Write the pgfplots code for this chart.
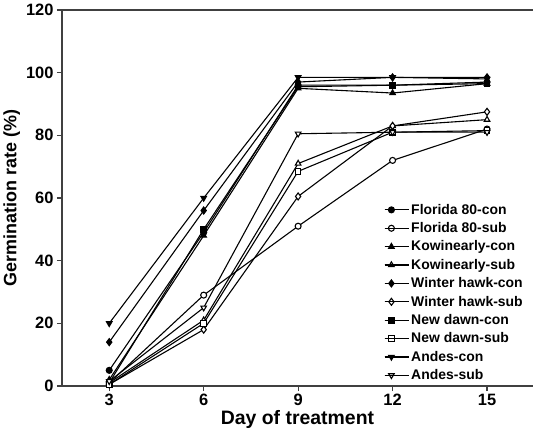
\documentclass[border=0pt]{standalone}
\usepackage{pgfplots}
\pgfplotsset{compat=1.18}
\usepackage{fontspec}
\setmainfont{Liberation Sans}
\usetikzlibrary{calc}
\definecolor{axgray}{HTML}{404040}
\begin{document}
\begin{tikzpicture}
\begin{axis}[
  scale only axis,
  width=471bp, height=376bp,
  xmin=1.5, xmax=16.46, ymin=0, ymax=120,
  xtick={3,6,9,12,15}, ytick={0,20,...,120},
  axis x line=box, axis y line=left,
  xtick pos=bottom, ytick pos=left,
  tick align=outside,
  major tick length=5bp,
  axis line style={-, color=axgray, line width=1.8pt},
  tick style={color=axgray, line width=1.2pt},
  /pgf/number format/assume math mode=true,
  ticklabel style={font=\bfseries\fontsize{16.5}{17}\selectfont},
  xlabel={\bfseries Day of treatment},
  ylabel={\bfseries Germination rate (\%)},
  xlabel style={font=\bfseries\fontsize{19.5}{20}\selectfont, yshift=3bp},
  ylabel style={font=\bfseries\fontsize{18}{19}\selectfont, yshift=-1bp},
  legend style={draw=none, fill=none, at={(0.677,0.495)}, anchor=north west,
    font=\bfseries\fontsize{14}{14}\selectfont, row sep=2.8bp},
  legend cell align=left,
  legend image code/.code={\draw[mark repeat=2,mark phase=2] plot coordinates {(0cm,0cm)(0.24cm,0cm)(0.48cm,0cm)}; \path (0cm,0cm) -- (0.85cm,0cm);},
]
% Florida 80-con
\addplot[black, line width=1.1pt, mark=*, mark size=3bp, mark options={solid, draw=black, fill=black}] coordinates {(3,5) (6,49) (9,96) (12,96) (15,97)};
% Florida 80-sub
\addplot[black, line width=1.1pt, mark=*, mark size=3bp, mark options={solid, draw=black, fill=white, line width=1.1pt}] coordinates {(3,1) (6,29) (9,51) (12,72) (15,82)};
% Kowinearly-con
\addplot[black, line width=1.1pt, mark=triangle*, mark size=3.2bp, mark options={solid, draw=black, fill=black}] coordinates {(3,2) (6,48) (9,95) (12,93.5) (15,96.5)};
% Kowinearly-sub
\addplot[black, line width=1.1pt, mark=triangle*, mark size=3.2bp, mark options={solid, draw=black, fill=white, line width=1.1pt}] coordinates {(3,1) (6,21) (9,71) (12,83) (15,85)};
% Winter hawk-con
\addplot[black, line width=1.1pt, mark=diamond*, mark size=3.5bp, mark options={solid, draw=black, fill=black}] coordinates {(3,14) (6,56) (9,97) (12,98.5) (15,98.5)};
% Winter hawk-sub
\addplot[black, line width=1.1pt, mark=diamond*, mark size=3.5bp, mark options={solid, draw=black, fill=white, line width=1.1pt}] coordinates {(3,0.5) (6,18) (9,60.5) (12,83) (15,87.5)};
% New dawn-con
\addplot[black, line width=1.1pt, mark=square*, mark size=2.8bp, mark options={solid, draw=black, fill=black}] coordinates {(3,1) (6,50) (9,95.5) (12,96) (15,96.5)};
% New dawn-sub
\addplot[black, line width=1.1pt, mark=square*, mark size=2.8bp, mark options={solid, draw=black, fill=white, line width=1.1pt}] coordinates {(3,0.5) (6,20) (9,68.5) (12,81) (15,81.5)};
% Andes-con
\addplot[black, line width=1.1pt, mark=triangle*, mark size=3.2bp, mark options={solid, draw=black, fill=black, rotate=180}] coordinates {(3,20) (6,60) (9,98.5) (12,98.5) (15,98)};
% Andes-sub
\addplot[black, line width=1.1pt, mark=triangle*, mark size=3.2bp, mark options={solid, draw=black, fill=white, rotate=180, line width=1.1pt}] coordinates {(3,1.5) (6,25) (9,80.5) (12,81) (15,81)};
\legend{\textbf{Florida 80-con}, \textbf{Florida 80-sub}, \textbf{Kowinearly-con}, \textbf{Kowinearly-sub}, \textbf{Winter hawk-con}, \textbf{Winter hawk-sub}, \textbf{New dawn-con}, \textbf{New dawn-sub}, \textbf{Andes-con}, \textbf{Andes-sub}}
\end{axis}
\pgfresetboundingbox
\path[use as bounding box] ($(current axis.south west)+(-62bp,-56bp)$) rectangle ($(current axis.north east)+(0bp,10bp)$);
\end{tikzpicture}
\end{document}
